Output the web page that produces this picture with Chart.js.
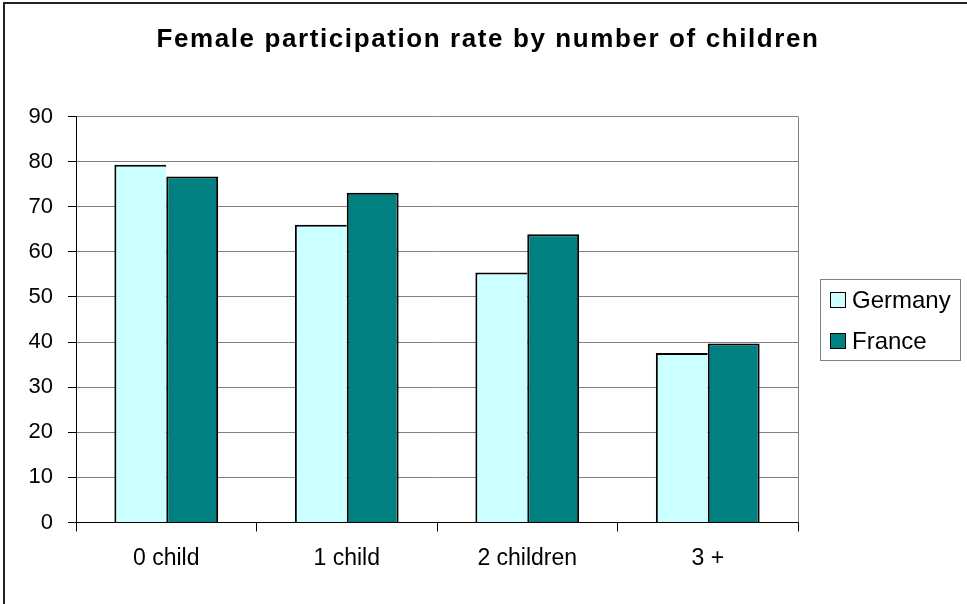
<!DOCTYPE html>
<html>
<head>
<meta charset="utf-8">
<script src="https://cdn.jsdelivr.net/npm/chart.js@4"></script>
<style>
  html, body { margin: 0; padding: 0; background: #fff; }
  #wrap { width: 967px; height: 604px; position: relative; }
</style>
</head>
<body>
<div id="wrap"><canvas id="chart" width="967" height="604"></canvas></div>
<script>
const titleText = "Female participation rate by number of children";
const categories = ["0 child", "1 child", "2 children", "3 +"];
const seriesNames = ["Germany", "France"];
const germanyValues = [79.3, 66.0, 55.4, 37.6];
const franceValues = [76.7, 73.1, 63.9, 39.7];
const yMin = 0;
const yMax = 90;
const yStep = 10;

const FONT = "'Liberation Sans', Arial, sans-serif";
const colors = ["#CCFFFF", "#008080"];

// title, outer frame, plot edge and boxed legend, drawn Excel-style
const excelBits = {
  id: "excelBits",
  beforeDraw(chart) {
    const ctx = chart.ctx;
    ctx.save();
    ctx.fillStyle = "#fff";
    ctx.fillRect(0, 0, chart.width, chart.height);
    ctx.restore();
  },
  afterDraw(chart) {
    const ctx = chart.ctx;
    const area = chart.chartArea;
    ctx.save();

    // outer frame, only left and top are in view
    ctx.fillStyle = "#222";
    ctx.fillRect(3, 2, chart.width - 3, 2);
    ctx.fillRect(3, 2, 2, chart.height - 2);

    // right edge of the plot area
    ctx.strokeStyle = "#808080";
    ctx.lineWidth = 1;
    const rx = Math.round(area.right) + 0.5;
    ctx.beginPath();
    ctx.moveTo(rx, area.top);
    ctx.lineTo(rx, area.bottom);
    ctx.stroke();

    // title
    ctx.fillStyle = "#000";
    ctx.font = "bold 26px " + FONT;
    ctx.letterSpacing = "1.6px";
    ctx.textAlign = "center";
    ctx.textBaseline = "middle";
    ctx.fillText(titleText, 488, 40);
    ctx.letterSpacing = "0px";

    // legend box
    ctx.strokeStyle = "#808080";
    ctx.strokeRect(820.5, 279.5, 140, 81);
    ctx.font = "24px " + FONT;
    ctx.textAlign = "left";
    chart.data.datasets.forEach((ds, i) => {
      const cy = 300 + i * 41;
      ctx.fillStyle = ds.backgroundColor;
      ctx.fillRect(830, cy - 8, 16, 16);
      ctx.strokeStyle = "#000";
      ctx.strokeRect(830.5, cy - 7.5, 15, 15);
      ctx.fillStyle = "#000";
      ctx.fillText(ds.label, 852, cy + 1);
    });

    ctx.restore();
  },
};

new Chart(document.getElementById("chart"), {
  type: "bar",
  data: {
    labels: categories,
    datasets: [
      {
        label: seriesNames[0],
        data: germanyValues,
        backgroundColor: colors[0],
        borderColor: "#000",
        borderWidth: { top: 2, left: 2, right: 0, bottom: 0 },
      },
      {
        label: seriesNames[1],
        data: franceValues,
        backgroundColor: colors[1],
        borderColor: "#000",
        borderWidth: { top: 2, left: 2, right: 2, bottom: 0 },
      },
    ],
  },
  options: {
    responsive: false,
    animation: false,
    devicePixelRatio: 1,
    datasets: {
      bar: { categoryPercentage: 0.575, barPercentage: 1 },
    },
    layout: {
      padding: { top: 116.5, right: 169, bottom: 31.5, left: 0 },
    },
    plugins: {
      legend: { display: false },
      title: { display: false },
      tooltip: { enabled: false },
    },
    scales: {
      x: {
        grid: {
          drawOnChartArea: false,
          drawTicks: true,
          tickLength: 9,
          tickColor: "#000",
        },
        border: { color: "#000", width: 1 },
        ticks: {
          color: "#000",
          padding: 13,
          font: { family: FONT, size: 23 },
          maxRotation: 0,
        },
        afterFit(scale) {
          scale.height = 50;
        },
      },
      y: {
        min: yMin,
        max: yMax,
        ticks: {
          stepSize: yStep,
          color: "#000",
          padding: 15,
          font: { family: FONT, size: 22 },
        },
        grid: {
          color: "#808080",
          lineWidth: 1,
          tickLength: 8,
          tickColor: "#000",
        },
        border: { color: "#000", width: 1 },
        afterFit(scale) {
          scale.width = 76;
        },
      },
    },
  },
  plugins: [excelBits],
});
</script>
</body>
</html>
